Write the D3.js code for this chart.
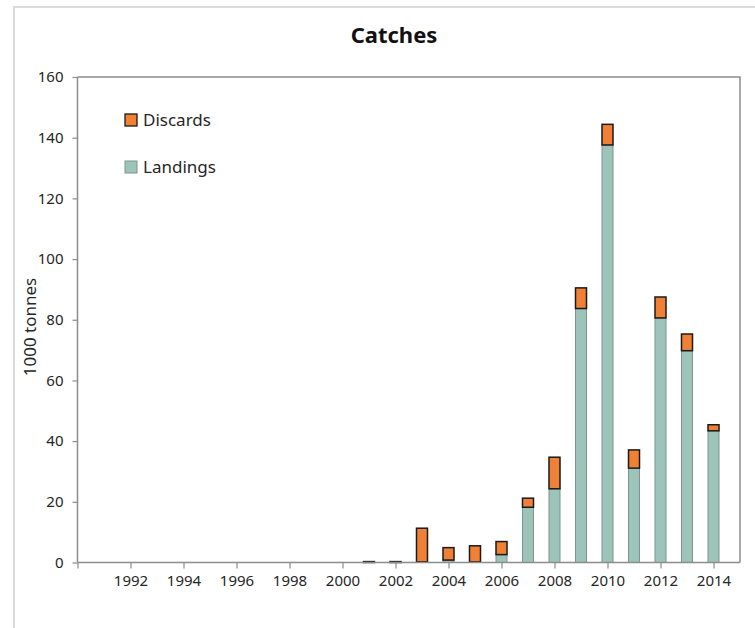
<!DOCTYPE html>
<html><head><meta charset="utf-8">
<script src="https://cdn.jsdelivr.net/npm/d3@7"></script>
<style>
html,body{margin:0;padding:0;background:#fff;}
svg{display:block;font-family:"Noto Sans",sans-serif;}
</style></head>
<body>
<svg id="chart" width="755" height="628"></svg>
<script>
const years     = [2001,2002,2003,2004,2005,2006,2007,2008,2009,2010,2011,2012,2013,2014];
const landings  = [0, 0, 0.2, 0.8, 0.2, 2.6, 18.2, 24.3, 83.7, 137.6, 31.1, 80.6, 69.8, 43.4];
const discards  = [0.3, 0.3, 11.1, 4.1, 5.3, 4.3, 3.0, 10.4, 6.8, 6.8, 6.0, 6.9, 5.5, 2.0];
const xTicks    = [1990,1992,1994,1996,1998,2000,2002,2004,2006,2008,2010,2012,2014];
const yTicks    = [0,20,40,60,80,100,120,140,160];
const seriesNames = ["Discards","Landings"];
const colors = {Discards:"#F08034", Landings:"#9DC4B8"};
const strokes = {Discards:"#1a1a1a", Landings:"#7b958d"};

const svg = d3.select("#chart");
const L = 77.5, R = 740, T = 77, B = 562.5;

// outer frame
svg.append("rect").attr("x",14).attr("y",7).attr("width",800).attr("height",700)
  .attr("fill","none").attr("stroke","#d2d2d2").attr("stroke-width",1.6);

const x = d3.scaleLinear().domain([1990,2015]).range([L,R]);
const y = d3.scaleLinear().domain([0,160]).range([B,T]);
const bw = 11;

const data = years.map((yr,i)=>({year:yr, Landings:landings[i], Discards:discards[i]}));
const stack = d3.stack().keys(["Landings","Discards"])(data);

// plot border top/right
svg.append("path").attr("d",`M${L},${T}H${R}V${B}`).attr("fill","none")
  .attr("stroke","#8c8c8c").attr("stroke-width",1.5);

const g = svg.append("g");
stack.forEach(s=>{
  g.selectAll(null).data(s).join("rect")
    .attr("x",d=>x(d.data.year)-bw/2)
    .attr("width",bw)
    .attr("y",d=>y(d[1]))
    .attr("height",d=>Math.max(0,y(d[0])-y(d[1])))
    .attr("fill",colors[s.key])
    .attr("stroke",strokes[s.key])
    .attr("stroke-width",s.key==="Discards"?1.5:1);
});

// axes
const ax = svg.append("g").attr("transform",`translate(0,${B})`)
  .call(d3.axisBottom(x).tickValues(xTicks).tickSize(6).tickPadding(7)
    .tickFormat(d=>d===1990?"":String(d)));
ax.select(".domain").attr("d",`M${L},0H${R}`);
const ay = svg.append("g").attr("transform",`translate(${L},0)`)
  .call(d3.axisLeft(y).tickValues(yTicks).tickSize(5).tickPadding(9));
ay.select(".domain").attr("d",`M0,${T}V${B}`);
[ax,ay].forEach(a=>{
  a.selectAll(".domain").attr("stroke","#8c8c8c").attr("stroke-width",1.5);
  a.selectAll(".tick line").attr("stroke","#8c8c8c").attr("stroke-width",1.2);
  a.selectAll("text").attr("fill","#262626").style("font-size","15px")
    .style("font-family","'Noto Sans',sans-serif");
});

// title
svg.append("text").attr("x",394).attr("y",43).attr("text-anchor","middle")
  .style("font-size","22px").style("font-weight","bold").attr("fill","#111")
  .text("Catches");

// y title
svg.append("text").attr("transform","translate(36,327) rotate(-90)")
  .attr("text-anchor","middle").style("font-size","17px").attr("fill","#262626")
  .text("1000 tonnes");

// legend
const lg = svg.append("g");
seriesNames.forEach((n,i)=>{
  const yy = 114 + i*47;
  lg.append("rect").attr("x",125).attr("y",yy).attr("width",12).attr("height",12)
    .attr("fill",colors[n]).attr("stroke",strokes[n]).attr("stroke-width",n==="Discards"?1.3:1);
  lg.append("text").attr("x",143).attr("y",yy+12).style("font-size","17px")
    .attr("fill","#262626").text(n);
});
</script>
</body></html>
